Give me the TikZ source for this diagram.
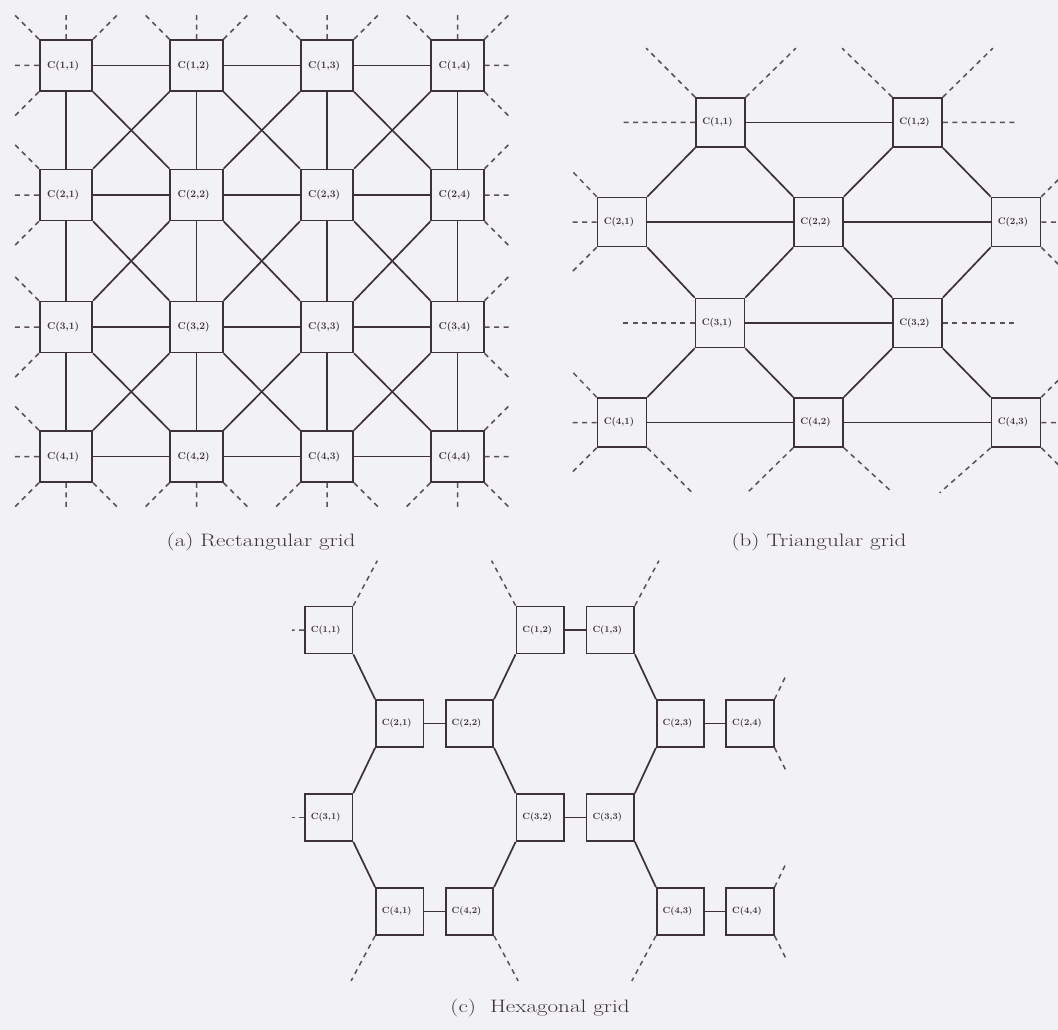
\documentclass[tikz,border=0pt]{standalone}
\usepackage{tikz}
\usepackage{graphicx}

\definecolor{paper}{RGB}{242,241,243}
\definecolor{ink}{RGB}{62,50,57}
\definecolor{dashink}{RGB}{92,80,87}
\newcommand{\captext}[1]{\scalebox{1.28}[1]{#1}}

\tikzset{
  link/.style={draw=ink, line width=1.7pt},
  stub/.style={draw=dashink, line width=1.5pt, dash pattern=on 5pt off 4.5pt},
  cell/.style={draw=ink, line width=1.7pt, inner sep=0pt, text=ink,
    execute at begin node={\hspace*{-6pt}}},
  rcell/.style={cell, minimum width=52.5pt, minimum height=51pt, font=\fontsize{10}{11}\selectfont\bfseries},
  tcell/.style={cell, minimum width=49pt, minimum height=49pt, font=\fontsize{9.5}{10}\selectfont\bfseries},
  hcell/.style={cell, minimum width=47.5pt, minimum height=47pt, font=\fontsize{9}{10}\selectfont\bfseries},
  caption/.style={inner sep=0pt, text=ink, font=\fontsize{18}{21}\selectfont},
}

\begin{document}
\begin{tikzpicture}[x=1pt, y=-1pt]
\path[use as bounding box] (0,0) rectangle (1058,1030);
\clip (0,0) rectangle (1058,1030);
\fill[paper] (0,0) rectangle (1058,1030);

% (a) rectangular grid
\node[rcell] (r11) at (66,65.5) {C(1,1)};
\node[rcell] (r12) at (196.5,65.5) {C(1,2)};
\node[rcell] (r13) at (327,65.5) {C(1,3)};
\node[rcell] (r14) at (457.5,65.5) {C(1,4)};
\node[rcell] (r21) at (66,195) {C(2,1)};
\node[rcell] (r22) at (196.5,195) {C(2,2)};
\node[rcell] (r23) at (327,195) {C(2,3)};
\node[rcell] (r24) at (457.5,195) {C(2,4)};
\node[rcell] (r31) at (66,327) {C(3,1)};
\node[rcell] (r32) at (196.5,327) {C(3,2)};
\node[rcell] (r33) at (327,327) {C(3,3)};
\node[rcell] (r34) at (457.5,327) {C(3,4)};
\node[rcell] (r41) at (66,456.5) {C(4,1)};
\node[rcell] (r42) at (196.5,456.5) {C(4,2)};
\node[rcell] (r43) at (327,456.5) {C(4,3)};
\node[rcell] (r44) at (457.5,456.5) {C(4,4)};
% rows and columns
\draw[link] (r11) -- (r12) -- (r13) -- (r14);
\draw[link] (r21) -- (r22) -- (r23) -- (r24);
\draw[link] (r31) -- (r32) -- (r33) -- (r34);
\draw[link] (r41) -- (r42) -- (r43) -- (r44);
\draw[link] (r11) -- (r21) -- (r31) -- (r41);
\draw[link] (r12) -- (r22) -- (r32) -- (r42);
\draw[link] (r13) -- (r23) -- (r33) -- (r43);
\draw[link] (r14) -- (r24) -- (r34) -- (r44);
% diagonals
\draw[link] (r11.south east) -- (r22.north west) (r22.south east) -- (r33.north west) (r33.south east) -- (r44.north west);
\draw[link] (r12.south east) -- (r23.north west) (r23.south east) -- (r34.north west);
\draw[link] (r13.south east) -- (r24.north west);
\draw[link] (r21.south east) -- (r32.north west) (r32.south east) -- (r43.north west);
\draw[link] (r31.south east) -- (r42.north west);
\draw[link] (r14.south west) -- (r23.north east) (r23.south west) -- (r32.north east) (r32.south west) -- (r41.north east);
\draw[link] (r13.south west) -- (r22.north east) (r22.south west) -- (r31.north east);
\draw[link] (r12.south west) -- (r21.north east);
\draw[link] (r24.south west) -- (r33.north east) (r33.south west) -- (r42.north east);
\draw[link] (r34.south west) -- (r43.north east);
% open ends
\draw[stub] (r11.north west) -- ++(-26,-26) (r11.north) -- ++(0,-26) (r11.north east) -- ++(26,-26)
  (r11.west) -- ++(-26,0) (r11.south west) -- ++(-26,26);
\draw[stub] (r12.north west) -- ++(-26,-26) (r12.north) -- ++(0,-26) (r12.north east) -- ++(26,-26);
\draw[stub] (r13.north west) -- ++(-26,-26) (r13.north) -- ++(0,-26) (r13.north east) -- ++(26,-26);
\draw[stub] (r14.north west) -- ++(-26,-26) (r14.north) -- ++(0,-26) (r14.north east) -- ++(26,-26)
  (r14.east) -- ++(26,0) (r14.south east) -- ++(26,26);
\draw[stub] (r21.north west) -- ++(-26,-26) (r21.west) -- ++(-26,0) (r21.south west) -- ++(-26,26);
\draw[stub] (r31.north west) -- ++(-26,-26) (r31.west) -- ++(-26,0) (r31.south west) -- ++(-26,26);
\draw[stub] (r24.north east) -- ++(26,-26) (r24.east) -- ++(26,0) (r24.south east) -- ++(26,26);
\draw[stub] (r34.north east) -- ++(26,-26) (r34.east) -- ++(26,0) (r34.south east) -- ++(26,26);
\draw[stub] (r41.north west) -- ++(-26,-26) (r41.west) -- ++(-26,0) (r41.south west) -- ++(-26,26)
  (r41.south) -- ++(0,26) (r41.south east) -- ++(26,26);
\draw[stub] (r42.south west) -- ++(-26,26) (r42.south) -- ++(0,26) (r42.south east) -- ++(26,26);
\draw[stub] (r43.south west) -- ++(-26,26) (r43.south) -- ++(0,26) (r43.south east) -- ++(26,26);
\draw[stub] (r44.north east) -- ++(26,-26) (r44.east) -- ++(26,0) (r44.south east) -- ++(26,26)
  (r44.south) -- ++(0,26) (r44.south west) -- ++(-26,26);
\node[caption] (capa) at (261,542) {\captext{(a) Rectangular grid}};

% (b) triangular grid
\node[tcell] (t11) at (720.5,122.5) {C(1,1)};
\node[tcell] (t12) at (917.5,122.5) {C(1,2)};
\node[tcell] (t21) at (622,222) {C(2,1)};
\node[tcell] (t22) at (818.5,222) {C(2,2)};
\node[tcell] (t23) at (1016,222) {C(2,3)};
\node[tcell] (t31) at (720,323) {C(3,1)};
\node[tcell] (t32) at (917.5,323) {C(3,2)};
\node[tcell] (t41) at (622,422.5) {C(4,1)};
\node[tcell] (t42) at (818.5,422.5) {C(4,2)};
\node[tcell] (t43) at (1016,422.5) {C(4,3)};
\draw[link] (t11) -- (t12);
\draw[link] (t21) -- (t22) -- (t23);
\draw[link] (t31) -- (t32);
\draw[link] (t41) -- (t42) -- (t43);
\draw[link] (t11.south west) -- (t21.north east) (t11.south east) -- (t22.north west)
  (t12.south west) -- (t22.north east) (t12.south east) -- (t23.north west);
\draw[link] (t21.south east) -- (t31.north west) (t22.south west) -- (t31.north east)
  (t22.south east) -- (t32.north west) (t23.south west) -- (t32.north east);
\draw[link] (t31.south west) -- (t41.north east) (t31.south east) -- (t42.north west)
  (t32.south west) -- (t42.north east) (t32.south east) -- (t43.north west);
% open ends
\draw[stub] (t11.west) -- ++(-74,0) (t11.north west) -- ++(-49,-49) (t11.north east) -- ++(50,-49);
\draw[stub] (t12.north west) -- ++(-50,-49) (t12.north east) -- ++(50,-49) (t12.east) -- ++(75,0);
\draw[stub] (t21.north west) -- ++(-24,-25) (t21.west) -- ++(-24,0) (t21.south west) -- ++(-24,24);
\draw[stub] (t23.north east) -- ++(24,-24) (t23.east) -- ++(24,0) (t23.south east) -- ++(24,24);
\draw[stub] (t31.west) -- ++(-74,0);
\draw[stub] (t32.east) -- ++(75,0);
\draw[stub] (t41.north west) -- ++(-24,-25) (t41.west) -- ++(-24,0) (t41.south west) -- ++(-24,24)
  (t41.south east) -- ++(46,46);
\draw[stub] (t42.south west) -- ++(-46,45) (t42.south east) -- ++(49,45);
\draw[stub] (t43.north east) -- ++(24,-24) (t43.east) -- ++(24,0) (t43.south east) -- ++(24,24)
  (t43.south west) -- ++(-51,45);
\node[caption] (capb) at (819,542) {\captext{(b) Triangular grid}};

% (c) hexagonal grid
\node[hcell] (h11) at (328.7,630) {C(1,1)};
\node[hcell] (h12) at (540.2,630) {C(1,2)};
\node[hcell] (h13) at (610.3,630) {C(1,3)};
\node[hcell] (h21) at (399.7,723.5) {C(2,1)};
\node[hcell] (h22) at (469.5,723.5) {C(2,2)};
\node[hcell] (h23) at (680.5,723.5) {C(2,3)};
\node[hcell] (h24) at (750,723.5) {C(2,4)};
\node[hcell] (h31) at (328.7,817.5) {C(3,1)};
\node[hcell] (h32) at (540.2,817.5) {C(3,2)};
\node[hcell] (h33) at (610.3,817.5) {C(3,3)};
\node[hcell] (h41) at (399.7,911.5) {C(4,1)};
\node[hcell] (h42) at (469.5,911.5) {C(4,2)};
\node[hcell] (h43) at (680.5,911.5) {C(4,3)};
\node[hcell] (h44) at (750,911.5) {C(4,4)};
\draw[link] (h21) -- (h22) (h41) -- (h42) (h12) -- (h13) (h32) -- (h33) (h23) -- (h24) (h43) -- (h44);
\draw[link] (h11.south east) -- (h21.north west) (h21.south west) -- (h31.north east) (h31.south east) -- (h41.north west);
\draw[link] (h22.north east) -- (h12.south west) (h22.south east) -- (h32.north west) (h42.north east) -- (h32.south west);
\draw[link] (h13.south east) -- (h23.north west) (h23.south west) -- (h33.north east) (h33.south east) -- (h43.north west);
% open ends
\draw[stub] (h11.north east) -- ++(24,-45) (h11.west) -- ++(-12,0);
\draw[stub] (h31.west) -- ++(-12,0);
\draw[stub] (h12.north west) -- ++(-24,-45) (h13.north east) -- ++(24,-45);
\draw[stub] (h24.north east) -- ++(12,-25) (h24.south east) -- ++(12,24);
\draw[stub] (h44.north east) -- ++(12,-25) (h44.south east) -- ++(12,24);
\draw[stub] (h41.south west) -- ++(-24,45) (h42.south east) -- ++(24,45) (h43.south west) -- ++(-24,45);
\node[caption] (capc) at (540,1008) {\captext{(c)\ \ Hexagonal grid}};
\end{tikzpicture}
\end{document}
